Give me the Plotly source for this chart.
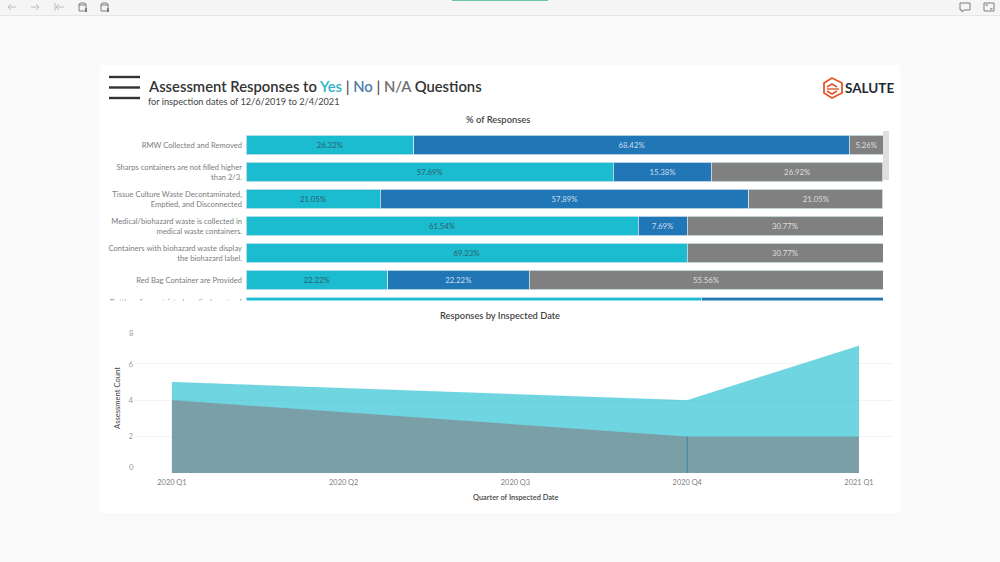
import plotly.graph_objects as go

W, H = 1000, 562
FONT = "Lato"

# ---- data: % of responses
questions = [
    "RMW Collected and Removed",
    "Sharps containers are not filled higher<br>than 2/3.",
    "Tissue Culture Waste Decontaminated,<br>Emptied, and Disconnected",
    "Medical/biohazard waste is collected in<br>medical waste containers.",
    "Containers with biohazard waste display<br>the biohazard label.",
    "Red Bag Container are Provided",
    "Bottles of unrestricted medical waste of<br>are disposed",
]
yes_pct = [26.32, 57.69, 21.05, 61.54, 69.23, 22.22, 71.43]
no_pct = [68.42, 15.38, 57.89, 7.69, None, 22.22, 28.57]
na_pct = [5.26, 26.92, 21.05, 30.77, 30.77, 55.56, None]
visible_rows = 6

# ---- data: responses by inspected date
quarters = ["2020 Q1", "2020 Q2", "2020 Q3", "2020 Q4", "2021 Q1"]
yes_quarters = ["2020 Q1", "2020 Q4", "2021 Q1"]
yes_counts = [5, 4, 7]
na_quarters = ["2020 Q1", "2020 Q4", "2021 Q1"]
na_counts = [4, 2, 2]
no_quarters = ["2020 Q4", "2020 Q4"]
no_counts = [0, 2]
count_ticks = [0, 2, 4, 6, 8]


def px(x):
    return x / W


def py(y):
    return 1 - y / H


def pct_text(values):
    return [None if v is None or i >= visible_rows else f"{v:.2f}%" for i, v in enumerate(values)]


def path(points, close=False):
    s = "M " + " L ".join(f"{px(x):.5f},{py(y):.5f}" for x, y in points)
    return s + (" Z" if close else "")


fig = go.Figure()

for name, vals, color, tcolor in [
    ("Yes", yes_pct, "#1bbcd0", "#2f5f6c"),
    ("No", no_pct, "#2176b5", "#c9ddec"),
    ("N/A", na_pct, "#808080", "#dedede"),
]:
    fig.add_trace(go.Bar(
        name=name, y=questions, x=vals, orientation="h", xaxis="x", yaxis="y",
        marker=dict(color=color, line=dict(color="#d5e6ee", width=0.8)),
        text=pct_text(vals), textposition="inside", insidetextanchor="middle",
        textangle=0, constraintext="none", cliponaxis=True,
        textfont=dict(family=FONT, size=7.8, color=tcolor),
        width=0.74, showlegend=False,
    ))

fig.add_trace(go.Scatter(
    x=yes_quarters, y=yes_counts, xaxis="x2", yaxis="y2", mode="lines",
    line=dict(color="rgba(27,188,208,0.2)", width=0.5), fill="tozeroy",
    fillcolor="rgba(27,188,208,0.63)", showlegend=False, name="Yes",
))
fig.add_trace(go.Scatter(
    x=na_quarters, y=na_counts, xaxis="x2", yaxis="y2", mode="lines",
    line=dict(color="rgba(128,128,128,0.2)", width=0.5), fill="tozeroy",
    fillcolor="rgba(135,105,109,0.5)", showlegend=False, name="N/A",
))
fig.add_trace(go.Scatter(
    x=no_quarters, y=no_counts, xaxis="x2", yaxis="y2", mode="lines",
    line=dict(color="#3f83a8", width=1), showlegend=False, name="No",
))

DARK = "#333333"

shapes = []


def rect(x0, y0, x1, y1, fill, layer="below"):
    shapes.append(dict(type="rect", xref="paper", yref="paper", x0=px(x0), x1=px(x1),
                       y0=py(y1), y1=py(y0), fillcolor=fill, line=dict(width=0), layer=layer))


def stroke(points, color, width=1.0, close=False, layer="above"):
    shapes.append(dict(type="path", xref="paper", yref="paper", path=path(points, close),
                       line=dict(color=color, width=width), layer=layer))


# page, toolbar and card
rect(0, 0, 1000, 562, "#fafafa")
rect(0, 0, 1000, 15, "#f5f5f5")
rect(0, 15, 1000, 16, "#e6e6e6")
rect(452, 0, 548, 1, "#6cc4b0")
rect(100, 65, 900, 513, "#ffffff")
# hides the rows that scroll out of the top chart's window
rect(100, 300.5, 883, 327, "#ffffff", layer="above")
# scrollbar thumb
rect(883, 131, 889, 180, "#dfdfdf", layer="above")

# hamburger
for y in (77, 87.5, 98):
    stroke([(109, y), (140, y)], "#333333", 2.4)

# toolbar icons
ic = "#bdbdbd"
stroke([(8, 7), (16, 7)], ic); stroke([(11, 4), (8, 7), (11, 10)], ic)
stroke([(31, 7), (39, 7)], ic); stroke([(36, 4), (39, 7), (36, 10)], ic)
stroke([(55, 3), (55, 11)], ic); stroke([(56, 7), (64, 7)], ic); stroke([(59, 4), (56, 7), (59, 10)], ic)
ic2 = "#7d7d7d"
for x in (79, 101):
    stroke([(x, 4), (x, 11), (x + 6, 11)], ic2)
    stroke([(x, 4), (x + 2, 3), (x + 5, 3), (x + 7, 4), (x + 7, 8)], ic2)
    stroke([(x, 5), (x + 7, 5)], ic2)
rect(85, 8, 87, 12, ic2); rect(107, 8, 109, 12, ic2)
stroke([(960, 3), (970, 3), (970, 10), (964, 10), (962, 12), (962, 10), (960, 10)], ic2, close=True)
stroke([(984, 3), (994, 3), (994, 11), (984, 11)], ic2, close=True)
stroke([(986, 6), (986, 5), (988, 5)], ic2); stroke([(992, 8), (992, 9), (990, 9)], ic2)

# logo
logo = "#e2572b"
stroke([(832, 78), (842, 83), (842, 93), (832, 98), (824, 93), (824, 83)], logo, 1.8, close=True)
stroke([(827, 87), (832, 84), (837, 87)], logo, 1.6)
stroke([(827, 89), (839, 89)], logo, 1.4)
stroke([(827, 91), (832, 94), (837, 91)], logo, 1.6)


def note(x, y, text, size, color, anchor="left", weight=400, angle=0):
    return dict(xref="paper", yref="paper", x=px(x), y=py(y), text=text,
                showarrow=False, xanchor=anchor, yanchor="middle", textangle=angle,
                font=dict(family=FONT, size=size, color=color, weight=weight), align=anchor)


title = ('Assessment Responses to <span style="color:#2fb4c6">Yes</span> '
         '<span style="color:#555">|</span> <span style="color:#4f7ea3">No</span> '
         '<span style="color:#555">|</span> <span style="color:#6f6f6f">N/A</span> Questions')

annotations = [
    note(145.5, 85.5, title, 14.8, DARK, weight=600),
    note(145.5, 101, "for inspection dates of 12/6/2019 to 2/4/2021", 9.2, "#444444"),
    note(497.5, 120, "% of Responses", 9.4, "#444444", "center", 600),
    note(500, 315.5, "Responses by Inspected Date", 9.3, "#444444", "center", 600),
    note(117, 398, "Assessment Count", 7.6, "#444444", "center", 400, -90),
    note(515.5, 497.5, "Quarter of Inspected Date", 7.4, "#444444", "center", 600),
    note(843, 88.5, "SALUTE", 13.5, "#1f2a36", "left", 700),
    note(131, 467, str(count_ticks[0]), 7.8, "#a0a0a0", "center"),
    note(131, 333, str(count_ticks[-1]), 7.8, "#a0a0a0", "center"),
]

fig.update_layout(
    width=W, height=H, autosize=False, margin=dict(l=0, r=0, t=0, b=0),
    paper_bgcolor="#fafafa", plot_bgcolor="rgba(0,0,0,0)", barmode="stack",
    xaxis=dict(domain=[px(246), px(883)], range=[0, 100], visible=False, anchor="y", fixedrange=True),
    yaxis=dict(domain=[py(320.5), py(131)], range=[6.5, -0.5185], type="category",
               categoryorder="array", categoryarray=questions, anchor="x",
               showgrid=False, zeroline=False, ticks="", showline=False, ticklabelstandoff=3,
               tickfont=dict(family=FONT, size=7.6, color="#7c7c7c"), fixedrange=True),
    xaxis2=dict(domain=[px(135), px(893)], type="category", categoryorder="array",
                categoryarray=quarters, range=[-0.215, 4.198], anchor="y2", showgrid=False,
                zeroline=False, ticks="", showline=False, ticklabelstandoff=4,
                tickfont=dict(family=FONT, size=7.4, color="#808080"), fixedrange=True),
    yaxis2=dict(domain=[py(473), py(327.5)], range=[0, 8], anchor="x2", tickmode="array",
                tickvals=count_ticks, ticktext=["", "2", "4", "6", ""], showgrid=True,
                gridcolor="#f3f3f3", gridwidth=1, zeroline=False, ticks="", showline=False,
                ticklabelstandoff=1,
                tickfont=dict(family=FONT, size=7.8, color="#a0a0a0"), fixedrange=True),
    shapes=shapes, annotations=annotations, showlegend=False,
    font=dict(family=FONT),
)

fig.write_html("out.html", config=dict(displayModeBar=False),
               post_script="document.body.style.margin='0';document.body.style.overflow='hidden';")
